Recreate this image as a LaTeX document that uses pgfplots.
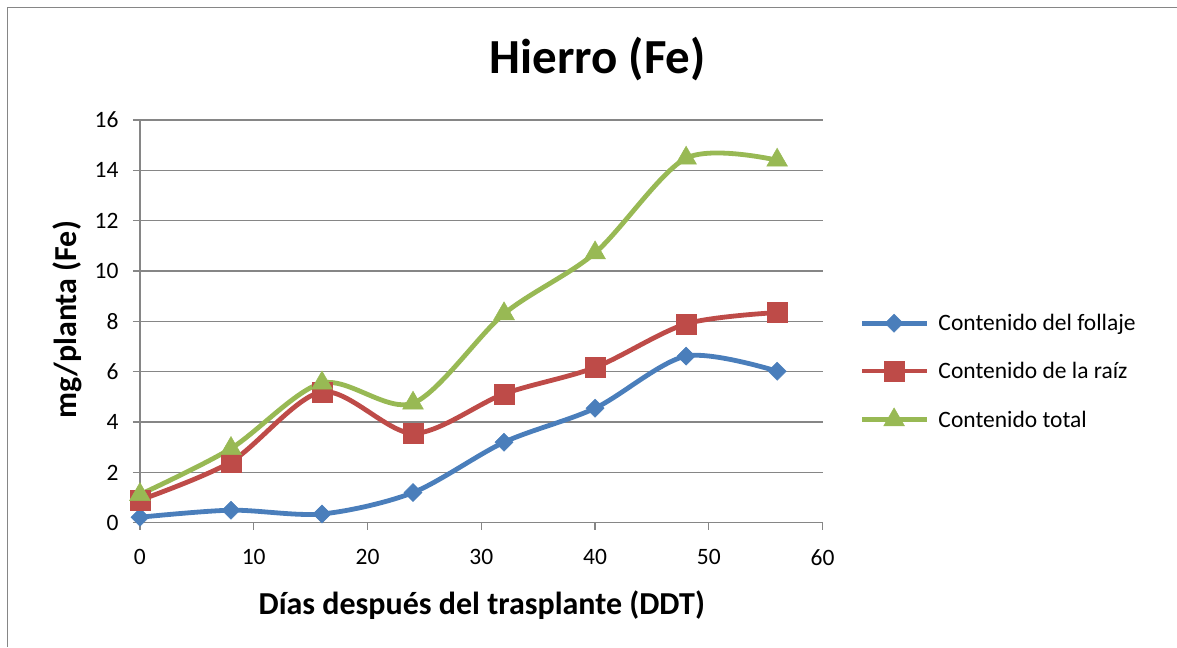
\documentclass[border=0pt]{standalone}
\usepackage{fontspec}
\setmainfont{Carlito}
\usepackage{pgfplots}
\pgfplotsset{compat=1.18}
\definecolor{xlblue}{HTML}{4A7EBB}
\definecolor{xlred}{HTML}{BE4B48}
\definecolor{xlgreen}{HTML}{98B954}
\definecolor{xlgrid}{HTML}{868686}
\begin{document}
\begin{tikzpicture}[x=1pt,y=1pt]
\path (-140,-124) rectangle (1037,523);
\draw[xlgrid, line width=1pt] (-132,-124) -- (-132,515) -- (1037,515);
\begin{axis}[
  at={(0,0)}, anchor=origin,
  scale only axis, width=683pt, height=403pt,
  xmin=0, xmax=60, ymin=0, ymax=16,
  xtick={0,10,...,60}, ytick={0,2,...,16},
  axis x line*=bottom, axis y line*=left,
  axis line style={xlgrid, line width=1.2pt, -},
  tick style={xlgrid, line width=1.2pt},
  major tick length=7pt, tick align=outside,
  ymajorgrids, grid style={xlgrid, line width=1.2pt},
  /pgf/number format/assume math mode=true,
  ticklabel style={font=\fontsize{23.5}{28}\selectfont},
  yticklabel style={xshift=-11pt},
  xticklabel style={yshift=-16pt},
  title={Hierro (Fe)},
  title style={font=\bfseries\fontsize{49}{58}\selectfont, at={(0.6706,1.1365)}, anchor=center},
  xlabel={Días después del trasplante (DDT)},
  xlabel style={font=\bfseries\fontsize{32}{38}\selectfont, at={(0.5007,-0.2035)}, anchor=center},
  ylabel={mg/planta (Fe)},
  ylabel style={font=\bfseries\fontsize{32}{38}\selectfont, at={(-0.1069,0.5037)}, anchor=center, rotate=0},
  legend style={at={(1.054,0.523)}, anchor=north west, draw=none, fill=none,
    font=\fontsize{23.5}{28}\selectfont, row sep=26pt, inner sep=0pt,
    /tikz/every odd column/.append style={column sep=7pt}},
  legend cell align=left,
  legend image code/.code={\draw[mark repeat=2,mark phase=2] plot coordinates {(0pt,0pt)(32pt,0pt)(65pt,0pt)};},
  every axis plot/.append style={line width=4.8pt, smooth},
  clip=false,
]
\addplot[xlblue, mark=square*, mark size=6.4pt, mark options={rotate=45, line width=0.5pt}] coordinates {
(0,0.22) (8,0.5) (16,0.35) (24,1.2) (32,3.2) (40,4.55) (48,6.62) (56,6.02)};
\addlegendentry{Contenido del follaje}
\addplot[xlred, mark=square*, mark size=10pt, mark options={line width=0.5pt}] coordinates {
(0,0.9) (8,2.42) (16,5.2) (24,3.55) (32,5.12) (40,6.17) (48,7.9) (56,8.35)};
\addlegendentry{Contenido de la raíz}
\addplot[xlgreen, mark=triangle*, mark size=12pt, mark options={line width=0.5pt}] coordinates {
(0,1.12) (8,2.95) (16,5.55) (24,4.75) (32,8.3) (40,10.72) (48,14.48) (56,14.4)};
\addlegendentry{Contenido total}
\end{axis}
\end{tikzpicture}
\end{document}
